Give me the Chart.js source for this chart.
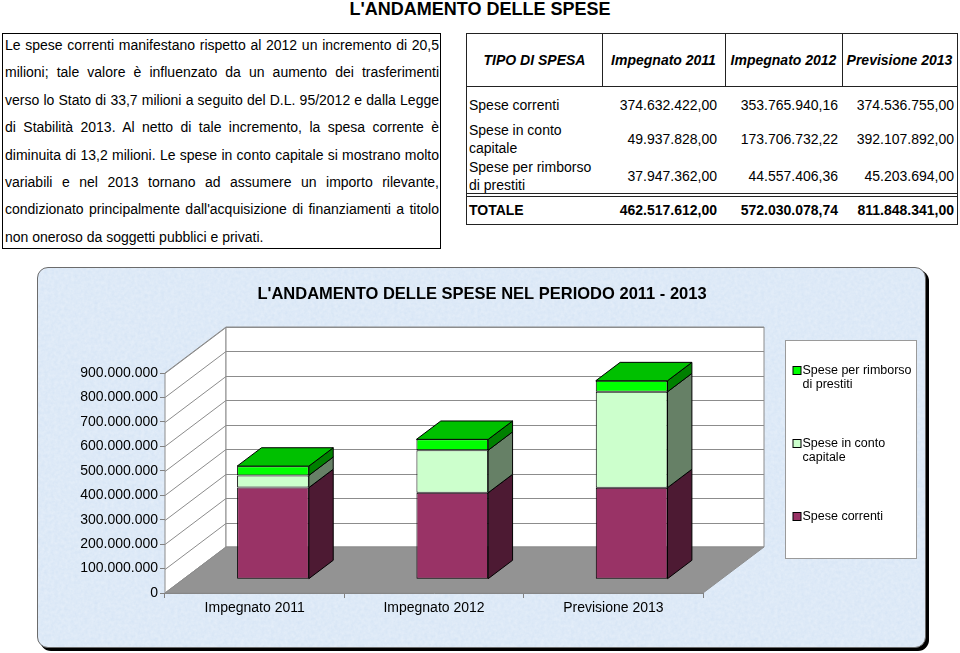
<!DOCTYPE html>
<html lang="it">
<head>
<meta charset="utf-8">
<title>L'andamento delle spese</title>
<script src="https://cdn.jsdelivr.net/npm/chart.js@4.4.1/dist/chart.umd.min.js"></script>
<style>
  html, body { margin: 0; padding: 0; background: #fff; }
  body { width: 960px; height: 653px; position: relative; overflow: hidden;
         font-family: "Liberation Sans", Arial, sans-serif; color: #000; }
  #pageTitle { position: absolute; left: 0; width: 960px; top: -2px; text-align: center;
               font-weight: bold; font-size: 18px; line-height: 22px; }
  #note { position: absolute; left: 2px; top: 33px; width: 437px; height: 214px; border: 1px solid #000; }
  #note div { position: absolute; left: 2px; width: 434px; font-size: 14px; line-height: 18px;
              text-align: justify; text-align-last: justify; }
  #note div.last { text-align-last: left; }
  #tbl { position: absolute; left: 466px; top: 33px; width: 490px; height: 190px; border: 1px solid #222; }
  #tbl .ln { position: absolute; background: #222; }
  #tbl span { position: absolute; font-size: 14px; line-height: 18px; white-space: nowrap; }
  #tbl .hd { font-weight: bold; font-style: italic; text-align: center; }
  #tbl .num { text-align: right; }
  #tbl .tot { font-weight: bold; }
  #chartBox { position: absolute; left: 37px; top: 267px; width: 887px; height: 379px;
              border: 1px solid #6b6b6b; border-radius: 11px; box-shadow: 3px 3px 0 #000;
              background-color: #d5e4f5;
              background-image: url("data:image/svg+xml;utf8,<svg xmlns='http://www.w3.org/2000/svg' width='300' height='300'><filter id='n'><feTurbulence type='fractalNoise' baseFrequency='0.3' numOctaves='3'/><feColorMatrix values='0 0 0 0 1  0 0 0 0 1  0 0 0 0 1  0 0 0 0.4 0'/></filter><rect width='100%' height='100%' filter='url(%23n)'/></svg>"); }
  #chart { position: absolute; left: 37px; top: 267px; }
</style>
</head>
<body>
<div id="pageTitle">L'ANDAMENTO DELLE SPESE</div>
<div id="note"></div>
<div id="tbl"></div>
<div id="chartBox"></div>
<canvas id="chart" width="890" height="382"></canvas>

<script>
// ---- data ----
const categories = ['Impegnato 2011', 'Impegnato 2012', 'Previsione 2013'];
const seriesNames = ['Spese correnti', 'Spese in conto capitale', 'Spese per rimborso di prestiti'];
const speseCorrenti = [374632422.00, 353765940.16, 374536755.00];
const speseContoCapitale = [49937828.00, 173706732.22, 392107892.00];
const speseRimborso = [37947362.00, 44557406.36, 45203694.00];
const yMax = 900000000;
const yStep = 100000000;
const chartTitle = "L'ANDAMENTO DELLE SPESE NEL PERIODO 2011 - 2013";

const noteLines = [
  'Le spese correnti manifestano rispetto al 2012 un incremento di 20,5',
  'milioni; tale valore è influenzato da un aumento dei trasferimenti',
  'verso lo Stato di 33,7 milioni a seguito del D.L. 95/2012 e dalla Legge',
  'di Stabilità 2013. Al netto di tale incremento, la spesa corrente è',
  'diminuita di 13,2 milioni. Le spese in conto capitale si mostrano molto',
  'variabili e nel 2013 tornano ad assumere un importo rilevante,',
  "condizionato principalmente  dall'acquisizione di finanziamenti a titolo",
  'non oneroso da soggetti pubblici e privati.'
];

// ---- styles ----
const FONT = '"Liberation Sans", Arial, sans-serif';
const frontColors = ['#993366', '#ccffcc', '#00ff00'];
const sideColors = ['#4d1a33', '#668066', '#008000'];
const topColors = ['#733350', '#99bf99', '#00c000'];

// thousands with dots, decimals with comma
function fmt(v, dec) {
  const neg = v < 0;
  let cents = Math.round(Math.abs(v) * 100);
  let intPart = String(Math.floor(cents / 100)).replace(/\B(?=(\d{3})+(?!\d))/g, '.');
  if (!dec) return intPart;
  const c = String(cents % 100).padStart(2, '0');
  return (neg ? '-' : '') + intPart + ',' + c;
}

// ---- text box ----
const note = document.getElementById('note');
noteLines.forEach((t, i) => {
  const d = document.createElement('div');
  d.textContent = t;
  d.style.top = (45 + i * 27.4 - 34 - 9) + 'px';
  if (i === noteLines.length - 1) d.className = 'last';
  note.appendChild(d);
});

// ---- table ----
const tbl = document.getElementById('tbl');
const colEdges = [0, 135, 258, 375, 490];
function addLine(x, y, w, h) {
  const l = document.createElement('div');
  l.className = 'ln';
  Object.assign(l.style, { left: x + 'px', top: y + 'px', width: w + 'px', height: h + 'px' });
  tbl.appendChild(l);
}
function addText(text, cls, x, w, cy) {
  const s = document.createElement('span');
  s.className = cls;
  s.textContent = text;
  Object.assign(s.style, { left: x + 'px', width: w + 'px', top: (cy - 9) + 'px' });
  tbl.appendChild(s);
}
addLine(0, 52, 490, 1);
[1, 2, 3].forEach(i => addLine(colEdges[i], 0, 1, 52));
addLine(0, 159, 490, 1);
addLine(0, 162, 490, 1);

const headers = ['TIPO DI SPESA'].concat(categories);
headers.forEach((h, i) => addText(h, 'hd', colEdges[i], colEdges[i + 1] - colEdges[i], 26));

const tableSeries = [speseCorrenti, speseContoCapitale, speseRimborso];
const rowLabelLines = [['Spese correnti'], ['Spese in conto', 'capitale'], ['Spese per rimborso', 'di prestiti']];
const rowCenters = [71, 105, 142];
const numRight = [250, 371, 487];
tableSeries.forEach((vals, r) => {
  const lines = rowLabelLines[r];
  lines.forEach((t, k) => addText(t, '', 2, 130, rowCenters[r] + (k - (lines.length - 1) / 2) * 17.5));
  vals.forEach((v, c) => addText(fmt(v, true), 'num', numRight[c] - 120, 120, rowCenters[r]));
});
addText('TOTALE', 'tot', 2, 130, 176);
categories.forEach((_, c) => {
  const total = tableSeries.reduce((s, arr) => s + Math.round(arr[c] * 100), 0) / 100;
  addText(fmt(total, true), 'num tot', numRight[c] - 130, 130, 176);
});

// ---- 3D chart ----
const DX = 61, DY = -46;          // depth of the plot box
const BAR_FRONT = 0.3, BAR_DEPTH = 0.4;

function poly(ctx, pts, fill, stroke) {
  ctx.beginPath();
  ctx.moveTo(pts[0][0], pts[0][1]);
  for (let i = 1; i < pts.length; i++) ctx.lineTo(pts[i][0], pts[i][1]);
  ctx.closePath();
  if (fill) { ctx.fillStyle = fill; ctx.fill(); }
  if (stroke) { ctx.strokeStyle = stroke; ctx.lineWidth = 1; ctx.stroke(); }
}

const threeD = {
  id: 'threeD',
  beforeDatasetsDraw(chart) {
    const { ctx, chartArea: a, scales: { y } } = chart;
    ctx.save();
    // side wall and back wall
    poly(ctx, [[a.left, a.top], [a.left + DX, a.top + DY], [a.left + DX, a.bottom + DY], [a.left, a.bottom]], '#fff', '#8c8c8c');
    poly(ctx, [[a.left + DX, a.top + DY], [a.right + DX, a.top + DY], [a.right + DX, a.bottom + DY], [a.left + DX, a.bottom + DY]], '#fff', '#8c8c8c');
    // gridlines
    ctx.strokeStyle = '#8c8c8c';
    ctx.lineWidth = 1;
    y.ticks.forEach(t => {
      const py = Math.round(y.getPixelForValue(t.value)) + 0.5;
      ctx.beginPath();
      ctx.moveTo(a.left, py);
      ctx.lineTo(a.left + DX, py + DY);
      ctx.lineTo(a.right + DX, py + DY);
      ctx.stroke();
    });
    // floor
    poly(ctx, [[a.left, a.bottom], [a.right, a.bottom], [a.right + DX, a.bottom + DY], [a.left + DX, a.bottom + DY]], '#939393', '#8c8c8c');
    // bars sit in the middle of the depth
    ctx.translate(DX * BAR_FRONT, DY * BAR_FRONT);
  },
  afterDatasetsDraw(chart) {
    const { ctx } = chart;
    const bdx = DX * BAR_DEPTH, bdy = DY * BAR_DEPTH;
    const n = chart.data.datasets.length;
    chart.data.datasets.forEach((ds, i) => {
      chart.getDatasetMeta(i).data.forEach(bar => {
        const { x, y, base, width } = bar.getProps(['x', 'y', 'base', 'width'], true);
        const l = x - width / 2, r = x + width / 2;
        const top = Math.min(y, base), bot = Math.max(y, base);
        poly(ctx, [[r, top], [r + bdx, top + bdy], [r + bdx, bot + bdy], [r, bot]], sideColors[i], '#000');
        if (i === n - 1) {
          poly(ctx, [[l, top], [l + bdx, top + bdy], [r + bdx, top + bdy], [r, top]], topColors[i], '#000');
        }
      });
    });
    ctx.restore();
  },
  afterDraw(chart) {
    const { ctx } = chart;
    ctx.save();
    // title
    ctx.fillStyle = '#000';
    ctx.font = 'bold 16.5px ' + FONT;
    ctx.textAlign = 'center';
    ctx.textBaseline = 'middle';
    ctx.fillText(chartTitle, 445, 27);
    // legend
    const L = { x: 748.5, y: 73.5, w: 131, h: 218, first: 30, step: 73 };
    ctx.fillStyle = '#fff';
    ctx.fillRect(L.x, L.y, L.w, L.h);
    ctx.strokeStyle = '#9a9a9a';
    ctx.lineWidth = 1;
    ctx.strokeRect(L.x, L.y, L.w, L.h);
    ctx.font = '12.5px ' + FONT;
    ctx.textAlign = 'left';
    const items = chart.data.datasets.map((ds, i) => ({ ds, i })).reverse();
    items.forEach((it, k) => {
      const cy = Math.round(L.y + L.first + k * L.step);
      ctx.fillStyle = it.ds.backgroundColor;
      ctx.fillRect(L.x + 7.5, cy - 4.5, 8, 8);
      ctx.strokeStyle = '#000';
      ctx.strokeRect(L.x + 7.5, cy - 4.5, 8, 8);
      // word wrap
      const words = it.ds.label.split(' ');
      const lines = [];
      let cur = '';
      words.forEach(w => {
        const test = cur ? cur + ' ' + w : w;
        if (ctx.measureText(test).width > 112 && cur) { lines.push(cur); cur = w; } else cur = test;
      });
      lines.push(cur);
      ctx.fillStyle = '#000';
      lines.forEach((t, j) => ctx.fillText(t, L.x + 17, cy + j * 13.5));
    });
    ctx.restore();
  }
};

const seriesValues = [speseCorrenti, speseContoCapitale, speseRimborso];

new Chart(document.getElementById('chart'), {
  type: 'bar',
  data: {
    labels: categories,
    datasets: seriesValues.map((vals, i) => ({
      label: seriesNames[i],
      data: vals,
      backgroundColor: frontColors[i],
      borderColor: '#000',
      borderWidth: 1,
      borderSkipped: false,
      categoryPercentage: 1,
      barPercentage: 0.4,
      clip: false
    }))
  },
  options: {
    responsive: false,
    devicePixelRatio: 1,
    animation: false,
    layout: { padding: { left: 8, right: 224, top: 106, bottom: 26 } },
    plugins: {
      legend: { display: false },
      title: { display: false },
      tooltip: { enabled: false }
    },
    scales: {
      x: {
        stacked: true,
        grid: { drawOnChartArea: false, tickLength: 5, color: '#808080' },
        border: { color: '#808080' },
        ticks: { color: '#000', font: { family: FONT, size: 14 }, padding: 2, maxRotation: 0 },
        afterFit: s => { s.height = 30; }
      },
      y: {
        stacked: true,
        min: 0,
        max: yMax,
        grid: { drawOnChartArea: false, tickLength: 5, color: '#808080' },
        border: { color: '#808080' },
        ticks: { stepSize: yStep, color: '#000', font: { family: FONT, size: 14 }, padding: 2,
                 callback: v => fmt(v, false) },
        afterFit: s => { s.width = 120; }
      }
    }
  },
  plugins: [threeD]
});
</script>
</body>
</html>
